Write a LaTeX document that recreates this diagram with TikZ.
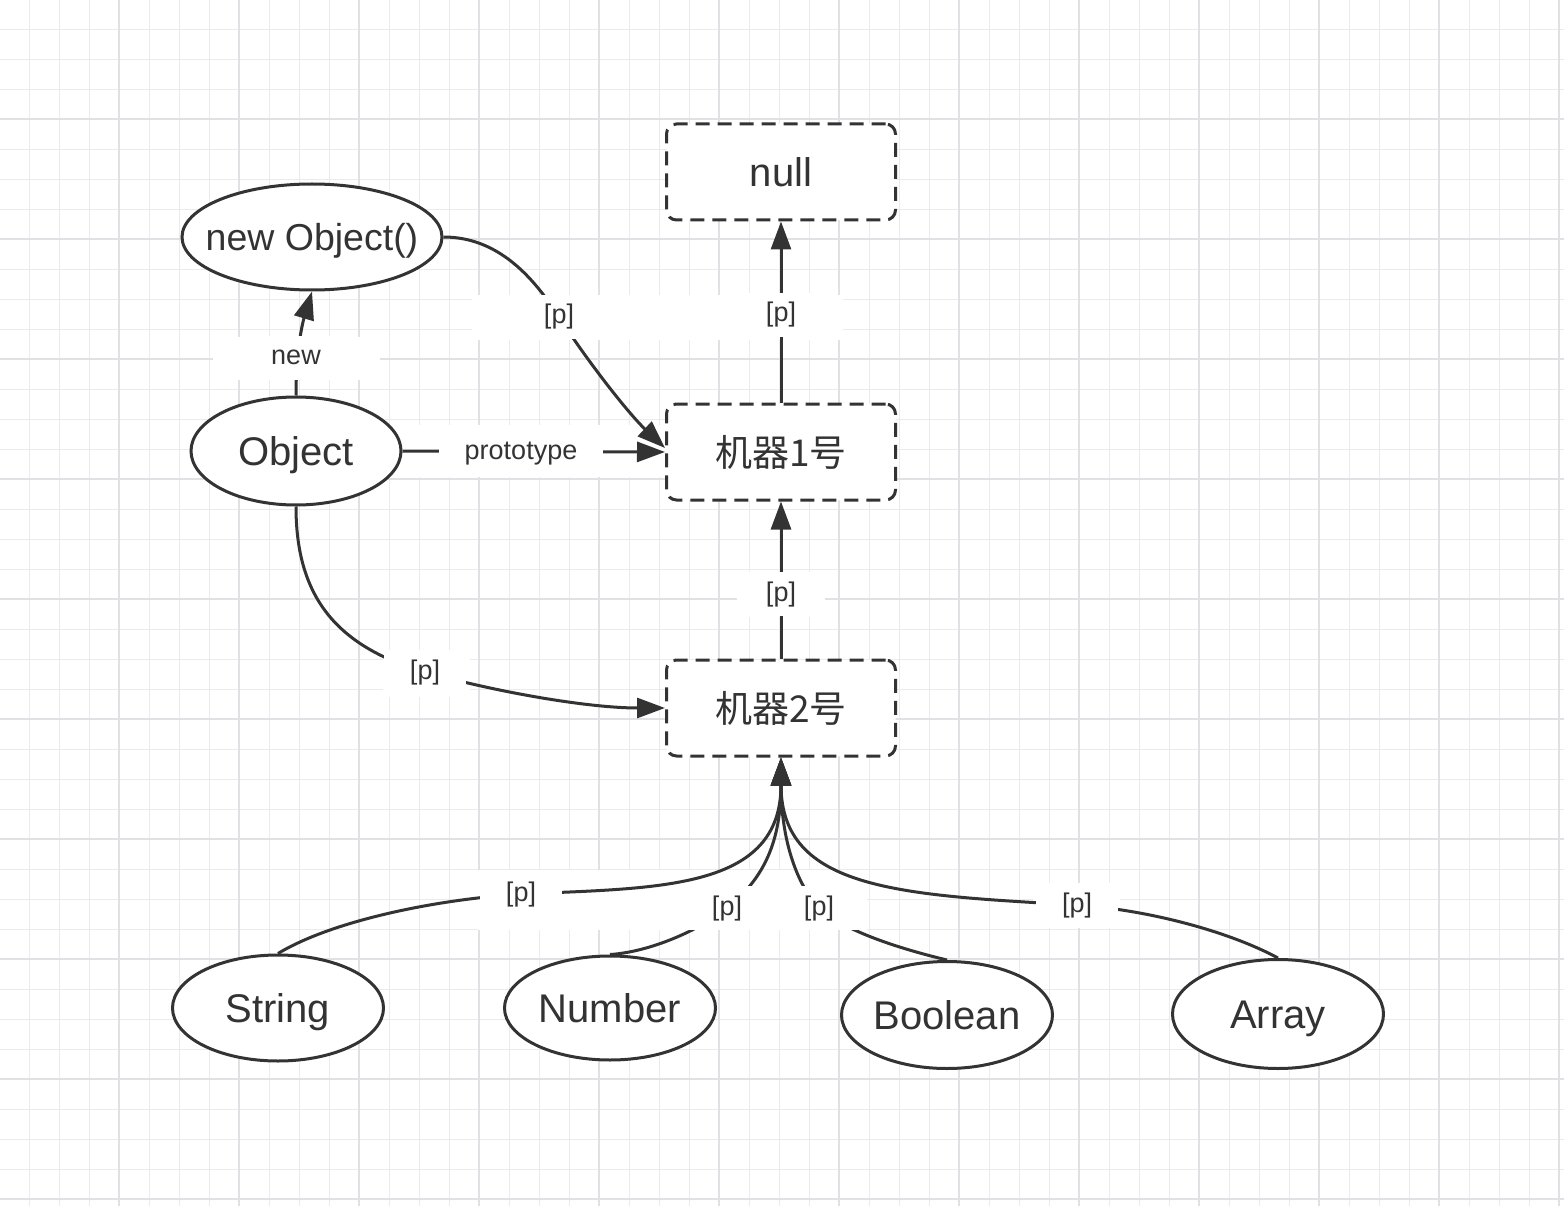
\documentclass[tikz,border=0pt]{standalone}
\usepackage{fontspec}
\setmainfont{Liberation Sans}
\newfontfamily\cjkfont{Noto Sans CJK SC}
\usetikzlibrary{shapes.geometric,arrows.meta}
\definecolor{ink}{HTML}{333333}
\definecolor{gridminor}{HTML}{EBEBEF}
\definecolor{gridmajor}{HTML}{E0E0E5}
\newcommand{\zw}[1]{\makebox[0pt][c]{#1}}
\begin{document}
\begin{tikzpicture}[x=1pt,y=-1pt,
  ellnode/.style={ellipse, draw=ink, line width=3pt, fill=white, inner sep=0pt,
    minimum width=211pt, minimum height=106pt, text=ink, font=\fontsize{40}{48}\selectfont,
    text height=28pt, text depth=0pt},
  dashbox/.style={rectangle, rounded corners=10pt, draw=ink, line width=3pt,
    dash pattern=on 14pt off 8pt, fill=white, minimum width=229pt, minimum height=96pt,
    inner sep=0pt, text=ink, font=\fontsize{40}{48}\selectfont},
  cjkbox/.style={dashbox, font=\cjkfont\fontsize{37}{44}\selectfont},
  lbl/.style={fill=white, text=ink, font=\fontsize{27}{32}\selectfont, inner xsep=26pt,
    inner ysep=9pt, text height=20pt, text depth=6pt},
  arr/.style={draw=ink, line width=3pt, -{Triangle[length=28pt,width=20pt]}},
  ln/.style={draw=ink, line width=3pt},
]
\useasboundingbox (0,0) rectangle (1564,1206);
\fill[white] (0,0) rectangle (1564,1206);
% grid
\foreach \i in {0,...,51} {
  \draw[gridminor, line width=1.4pt] (29.3+30*\i,0) -- (29.3+30*\i,1206);
}
\foreach \i in {0,...,39} {
  \draw[gridminor, line width=1.4pt] (0,29.3+30*\i) -- (1564,29.3+30*\i);
}
\foreach \i in {0,...,12} {
  \draw[gridmajor, line width=1.7pt] (119.3+120*\i,0) -- (119.3+120*\i,1206);
}
\foreach \i in {0,...,9} {
  \draw[gridmajor, line width=1.7pt] (0,119.3+120*\i) -- (1564,119.3+120*\i);
}
% white label patches
\fill[white] (213,337) rectangle (380,380);
\fill[white] (472,295) rectangle (843,340);
\fill[white] (402,425) rectangle (667,477);
\fill[white] (737,572) rectangle (825,617);
\fill[white] (383,653) rectangle (470,697);
\fill[white] (478,870) rectangle (867,930);
\fill[white] (1033,886) rectangle (1120,928);

% nodes
\node[dashbox] (nul) at (781,172) {null};
\node[cjkbox] (m1) at (781,452) {机器1号};
\node[cjkbox] (m2) at (781,708) {机器2号};
\node[ellnode, minimum width=260pt, minimum height=106pt, font=\fontsize{37.5}{45}\selectfont, text height=27pt] (nobj) at (312,237) {\zw{new Object()}};
\node[ellnode, minimum width=210pt, minimum height=108pt] (obj) at (296,451) {\zw{Object}};
\node[ellnode] (str) at (278,1008) {\zw{String}};
\node[ellnode, minimum height=104pt] (num) at (610,1008) {\zw{Number}};
\node[ellnode, minimum height=107pt] (boo) at (947,1015) {\zw{Boolean}};
\node[ellnode, minimum height=109pt] (arr) at (1278,1014) {\zw{Array}};

% label coordinates
\coordinate (cnew) at (296,358);
\coordinate (c1) at (559,317);
\coordinate (c2) at (781,315);
\coordinate (cproto) at (521,452);
\coordinate (c3) at (781,594);
\coordinate (c4) at (425,672);
\coordinate (c5) at (521,894);
\coordinate (c6) at (727,908);
\coordinate (c7) at (819,908);
\coordinate (c8) at (1077,905);

% connectors
\draw[arr] (obj.north) .. controls (296,345) and (304,318) .. (nobj.south);
\draw[arr] (nobj.east) .. controls (500,237) and (535,280) .. (c1)
  .. controls (590,365) and (630,415) .. ([yshift=4pt]m1.west);
\draw[arr] (m1.north) -- (nul.south);
\draw[arr] (obj.east) -- (m1.west);
\draw[arr] (m2.north) -- (m1.south);
\draw[arr] (obj.south) .. controls (296,590) and (330,645) .. (c4)
  .. controls (500,693) and (590,708) .. (m2.west);
\draw[arr] (str.north) .. controls (330,922) and (430,900) .. (c5)
  .. controls (660,888) and (781,890) .. (m2.south);
\draw[arr] (num.north) .. controls (650,952) and (700,930) .. (c6)
  .. controls (765,878) and (781,840) .. (m2.south);
\draw[arr] (boo.north) .. controls (905,950) and (845,932) .. (c7)
  .. controls (797,885) and (781,840) .. (m2.south);
\draw[arr] (arr.north) .. controls (1230,932) and (1150,910) .. (c8)
  .. controls (900,895) and (781,890) .. (m2.south);

% labels
\node[lbl] (lnew) at (cnew) {new};
\node[lbl] (l1) at (c1) {[p]};
\node[lbl] (l2) at (c2) {[p]};
\node[lbl] (lproto) at (cproto) {prototype};
\node[lbl] (l3) at (c3) {[p]};
\node[lbl] (l4) at (c4) {[p]};
\node[lbl] (l5) at (c5) {[p]};
\node[lbl] (l6) at (c6) {[p]};
\node[lbl] (l7) at (c7) {[p]};
\node[lbl] (l8) at (c8) {[p]};
\end{tikzpicture}
\end{document}
